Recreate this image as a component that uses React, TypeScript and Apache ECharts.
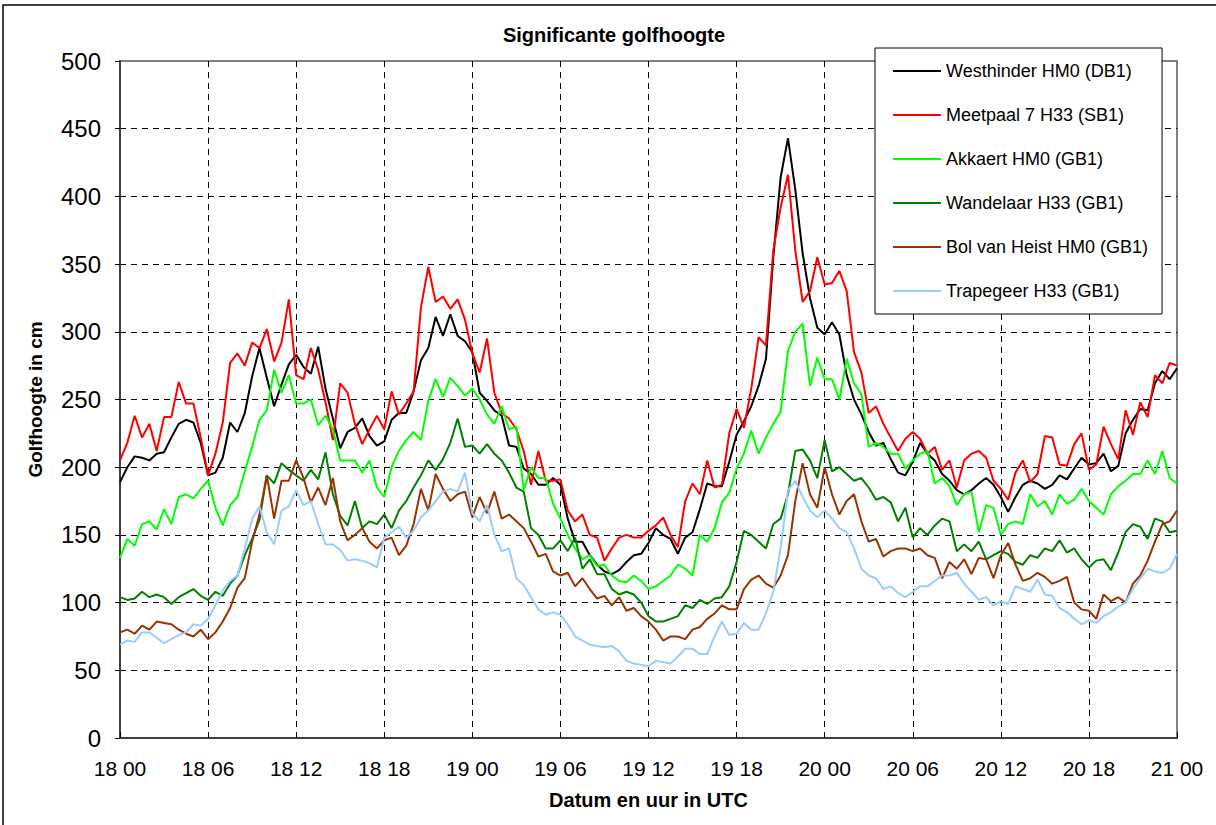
import React, { useEffect, useRef } from "react";
import * as echarts from "echarts";

const tickLabels = ["18 00", "18 06", "18 12", "18 18", "19 00", "19 06", "19 12", "19 18", "20 00", "20 06", "20 12", "20 18", "21 00"];
const seriesNames = [
  "Westhinder HM0 (DB1)",
  "Meetpaal 7 H33 (SB1)",
  "Akkaert HM0 (GB1)",
  "Wandelaar H33 (GB1)",
  "Bol van Heist HM0 (GB1)",
  "Trapegeer H33 (GB1)",
];
const seriesColors = ["#000000", "#ff0000", "#00ff00", "#008000", "#993300", "#99ccff"];

// half-hourly values from 18 00 to 21 00 (145 values each)
const westhinder = [
  189, 200, 208, 207, 205, 210, 211, 222, 232, 235, 233, 218, 194, 196, 207, 233, 226, 240, 267, 288, 266, 245, 261, 276, 283,
  274, 269, 289, 258, 236, 214, 226, 229, 236, 223, 216, 219, 235, 240, 240, 256, 279, 288, 311, 297, 313, 297, 293, 285,
  255, 249, 242, 238, 216, 215, 199, 195, 187, 187, 192, 187, 162, 145, 145, 135, 128, 123, 121, 124, 130, 135, 136, 144,
  155, 150, 147, 136, 148, 152, 169, 188, 186, 186, 204, 224, 234, 245, 260, 280, 355, 414, 443, 405, 358, 325, 303, 298,
  307, 298, 268, 250, 239, 226, 216, 218, 206, 196, 194, 204, 218, 210, 205, 195, 190, 183, 180, 183, 188, 192, 187, 178,
  167, 178, 187, 190, 188, 184, 187, 194, 191, 199, 207, 202, 203, 210, 197, 201, 225, 235, 243, 242, 262, 271, 265, 273,
];
const meetpaal7 = [
  205, 218, 238, 222, 232, 212, 237, 237, 263, 247, 247, 222, 194, 210, 233, 277, 284, 275, 292, 288, 302, 278, 292, 324, 268,
  265, 288, 272, 248, 220, 262, 255, 232, 217, 228, 238, 228, 256, 239, 247, 256, 318, 348, 322, 326, 317, 324, 309, 284,
  270, 295, 255, 240, 236, 228, 212, 187, 212, 190, 190, 191, 168, 160, 165, 150, 148, 131, 140, 148, 150, 148, 148, 153,
  157, 163, 150, 141, 175, 188, 180, 205, 185, 187, 225, 243, 229, 258, 296, 290, 360, 392, 416, 360, 322, 330, 355, 335,
  336, 345, 330, 285, 270, 240, 245, 232, 222, 212, 221, 226, 221, 210, 215, 198, 205, 185, 205, 210, 212, 207, 190, 184,
  176, 196, 205, 189, 195, 223, 222, 202, 201, 217, 225, 198, 202, 230, 217, 206, 242, 224, 248, 237, 268, 262, 277, 275,
];
const akkaert = [
  133, 147, 142, 158, 160, 154, 169, 158, 178, 180, 177, 184, 190, 170, 157, 172, 178, 197, 215, 235, 242, 272, 255, 268, 247,
  247, 250, 231, 238, 228, 205, 205, 205, 196, 205, 185, 178, 200, 212, 220, 226, 220, 249, 265, 252, 266, 260, 253, 258,
  250, 239, 232, 245, 228, 230, 183, 200, 192, 192, 173, 162, 150, 140, 132, 135, 127, 128, 120, 116, 115, 120, 116, 110,
  112, 116, 120, 128, 125, 120, 150, 145, 155, 174, 181, 199, 210, 227, 210, 222, 232, 241, 286, 300, 306, 260, 281, 265,
  265, 250, 280, 262, 254, 215, 218, 215, 210, 210, 199, 205, 210, 212, 188, 192, 186, 172, 180, 182, 152, 172, 170, 150,
  158, 160, 158, 180, 171, 175, 165, 180, 173, 176, 184, 175, 170, 165, 180, 186, 190, 195, 195, 205, 195, 212, 192, 188,
];
const wandelaar = [
  104, 102, 103, 108, 104, 106, 104, 99, 104, 107, 110, 105, 102, 108, 105, 114, 120, 135, 147, 161, 194, 188, 203, 198, 194,
  190, 198, 191, 211, 180, 164, 157, 175, 155, 160, 158, 165, 155, 168, 175, 185, 194, 205, 198, 206, 218, 236, 215, 216,
  210, 217, 210, 205, 196, 185, 182, 155, 150, 140, 140, 146, 138, 148, 125, 132, 121, 121, 110, 106, 108, 106, 100, 90,
  86, 86, 88, 90, 98, 96, 102, 99, 103, 104, 112, 130, 153, 150, 145, 140, 158, 162, 180, 212, 213, 205, 192, 220,
  197, 200, 195, 190, 192, 185, 176, 178, 174, 160, 170, 148, 155, 150, 157, 162, 160, 138, 143, 138, 145, 132, 135, 138,
  136, 130, 128, 135, 133, 140, 138, 146, 137, 140, 132, 126, 131, 132, 124, 137, 152, 158, 156, 147, 162, 160, 152, 153,
];
const bolVanHeist = [
  78, 80, 77, 83, 80, 86, 85, 84, 80, 77, 75, 80, 73, 78, 86, 96, 111, 118, 145, 165, 194, 162, 190, 190, 205,
  192, 174, 185, 172, 192, 160, 146, 150, 155, 145, 140, 146, 148, 135, 142, 158, 184, 168, 195, 184, 175, 180, 182, 163,
  178, 166, 182, 162, 165, 160, 155, 145, 134, 136, 123, 120, 122, 112, 118, 110, 103, 105, 98, 104, 94, 96, 90, 86,
  80, 72, 75, 75, 73, 80, 82, 88, 92, 98, 95, 95, 110, 117, 120, 114, 111, 120, 135, 175, 203, 180, 170, 200,
  180, 165, 175, 180, 160, 145, 147, 134, 138, 140, 140, 138, 140, 135, 133, 118, 130, 125, 132, 121, 133, 132, 118, 135,
  144, 128, 116, 118, 122, 119, 114, 116, 119, 100, 95, 94, 88, 106, 101, 104, 100, 114, 120, 131, 145, 158, 160, 168,
];
const trapegeer = [
  69, 72, 71, 78, 78, 74, 70, 73, 76, 78, 84, 83, 88, 98, 109, 116, 120, 140, 162, 171, 152, 143, 168, 171, 183,
  172, 175, 158, 143, 143, 139, 131, 132, 131, 129, 126, 148, 152, 156, 148, 153, 163, 168, 175, 182, 184, 182, 196, 166,
  160, 172, 150, 138, 140, 118, 113, 104, 95, 91, 93, 91, 84, 75, 72, 69, 68, 67, 68, 64, 57, 55, 54, 53,
  57, 56, 55, 60, 66, 66, 62, 62, 75, 86, 76, 77, 85, 80, 80, 92, 108, 140, 183, 190, 178, 168, 163, 168,
  162, 155, 152, 140, 125, 120, 118, 110, 112, 107, 104, 108, 112, 112, 116, 120, 120, 122, 114, 108, 102, 104, 98, 101,
  99, 112, 110, 108, 117, 106, 105, 96, 93, 88, 84, 87, 85, 90, 93, 97, 100, 110, 118, 125, 123, 122, 125, 136,
];

const allSeries = [westhinder, meetpaal7, akkaert, wandelaar, bolVanHeist, trapegeer];
const FONT = "'Liberation Sans', Arial, sans-serif";

export default function App() {
  const ref = useRef<HTMLDivElement>(null);
  useEffect(() => {
    document.body.style.margin = "0";
    const chart = echarts.init(ref.current!, null, { renderer: "svg" });
    const dashed = { show: true, lineStyle: { color: "#000", width: 1, type: [6, 5] } };
    chart.setOption({
      animation: false,
      backgroundColor: "#fff",
      textStyle: { fontFamily: FONT },
      grid: { left: 120, top: 61, right: 39, bottom: 87, show: true, borderColor: "#808080", borderWidth: 2, backgroundColor: "transparent" },
      graphic: [
        { type: "rect", silent: true, shape: { x: 3, y: 5, width: 1300, height: 900 }, style: { fill: "none", stroke: "#000", lineWidth: 1.5 } },
        { type: "text", silent: true, x: 614, y: 35, style: { text: "Significante golfhoogte", textAlign: "center", textVerticalAlign: "middle", font: "bold 20px " + FONT, fill: "#000" } },
      ],
      legend: {
        orient: "vertical",
        left: 875,
        top: 48,
        padding: [13, 14, 13, 18],
        itemGap: 24,
        itemWidth: 48,
        itemHeight: 2,
        icon: "rect",
        backgroundColor: "#fff",
        borderColor: "#000",
        borderWidth: 1,
        data: seriesNames,
        textStyle: { fontSize: 18, color: "#000", fontFamily: FONT, lineHeight: 20 },
      },
      xAxis: {
        type: "value",
        min: 0,
        max: 72,
        interval: 6,
        axisLine: { show: true, lineStyle: { color: "#404040", width: 2 } },
        axisTick: { show: true, inside: true, length: 6, lineStyle: { color: "#000" } },
        axisLabel: { formatter: (v: number) => tickLabels[Math.round(v / 6)] ?? "", fontSize: 21, color: "#000", margin: 20, fontFamily: FONT },
        splitLine: { ...dashed, showMinLine: false, showMaxLine: false },
        name: "Datum en uur in UTC",
        nameLocation: "middle",
        nameGap: 52,
        nameTextStyle: { fontWeight: "bold", fontSize: 20, color: "#000", fontFamily: FONT },
      },
      yAxis: {
        type: "value",
        min: 0,
        max: 500,
        interval: 50,
        axisLine: { show: true, lineStyle: { color: "#404040", width: 2 } },
        axisTick: { show: true, length: 5, lineStyle: { color: "#000" } },
        axisLabel: { fontSize: 24, color: "#000", margin: 19, fontFamily: FONT },
        splitLine: { ...dashed, showMinLine: false, showMaxLine: false },
        name: "Golfhoogte in cm",
        nameLocation: "middle",
        nameGap: 75,
        nameRotate: 90,
        nameTextStyle: { fontWeight: "bold", fontSize: 19, color: "#000", fontFamily: FONT },
      },
      series: allSeries.map((arr, k) => ({
        name: seriesNames[k],
        type: "line",
        showSymbol: false,
        symbol: "none",
        color: seriesColors[k],
        lineStyle: { color: seriesColors[k], width: 2 },
        data: arr.map((v, i) => [i * 0.5, v]),
      })),
    });
    return () => chart.dispose();
  }, []);
  return <div ref={ref} style={{ position: "absolute", left: 0, top: 0, width: 1216, height: 825 }} />;
}
